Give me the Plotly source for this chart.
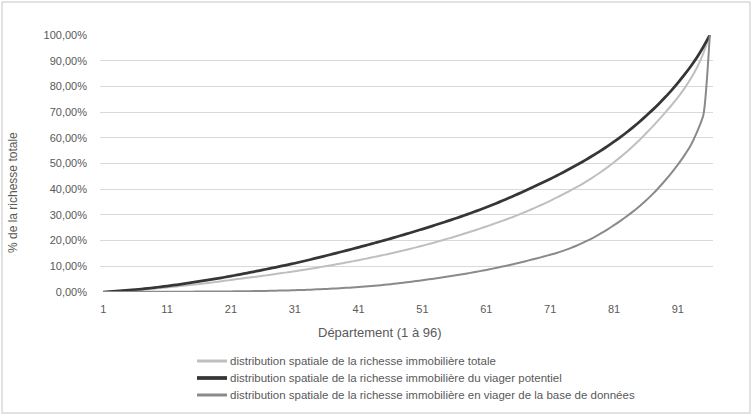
import numpy as np
import plotly.graph_objects as go

# Départements 1 à 96 (classés)
departements = list(range(1, 97))
x_ticks = [1, 11, 21, 31, 41, 51, 61, 71, 81, 91]

# % cumulé de la richesse
richesse_totale = [
    0, 0.1, 0.2, 0.32, 0.46, 0.6,
    0.82, 1.06, 1.3, 1.55, 1.8,
    2.05, 2.3, 2.56, 2.83, 3.1,
    3.4, 3.7, 4.0, 4.35, 4.7,
    5.02, 5.34, 5.66, 5.98, 6.3,
    6.65, 7.0, 7.36, 7.73, 8.1,
    8.48, 8.87, 9.27, 9.68, 10.1,
    10.55, 11.0, 11.46, 11.93, 12.4,
    12.9, 13.41, 13.93, 14.46, 15.0,
    15.58, 16.17, 16.77, 17.38, 18.0,
    18.67, 19.35, 20.05, 20.77, 21.5,
    22.27, 23.05, 23.85, 24.67, 25.5,
    26.36, 27.24, 28.14, 29.06, 30.0,
    31.05, 32.12, 33.21, 34.34, 35.5,
    36.74, 38.0, 39.28, 40.62, 42.0,
    43.55, 45.15, 46.82, 48.6, 50.5,
    52.5, 54.6, 56.85, 59.2, 61.7,
    64.3, 67.0, 69.8, 72.7, 75.8,
    79.2, 83.0, 87.4, 93.0, 100.0,
]

viager_potentiel = [
    0, 0.15, 0.32, 0.5, 0.7, 0.9,
    1.15, 1.42, 1.70, 2.0, 2.3,
    2.64, 2.99, 3.34, 3.71, 4.1,
    4.5, 4.9, 5.32, 5.75, 6.2,
    6.66, 7.13, 7.61, 8.1, 8.6,
    9.11, 9.62, 10.14, 10.66, 11.2,
    11.77, 12.36, 12.96, 13.57, 14.2,
    14.83, 15.46, 16.1, 16.75, 17.4,
    18.07, 18.74, 19.42, 20.1, 20.8,
    21.52, 22.25, 22.99, 23.74, 24.5,
    25.27, 26.06, 26.86, 27.67, 28.5,
    29.36, 30.23, 31.12, 32.05, 33.0,
    33.98, 34.99, 36.03, 37.1, 38.2,
    39.32, 40.46, 41.62, 42.8, 44.0,
    45.25, 46.55, 47.88, 49.23, 50.6,
    52.08, 53.6, 55.15, 56.8, 58.5,
    60.3, 62.2, 64.2, 66.3, 68.5,
    70.8, 73.2, 75.8, 78.5, 81.4,
    84.5, 87.8, 91.4, 95.5, 100.0,
]

viager_base = [
    0, 0.01, 0.02, 0.03, 0.04, 0.05, 0.06, 0.07, 0.08, 0.09,
    0.1, 0.11, 0.12, 0.13, 0.14, 0.15, 0.16, 0.18, 0.2, 0.22,
    0.24, 0.27, 0.3, 0.33, 0.37, 0.41, 0.46, 0.51, 0.57, 0.63,
    0.7, 0.78, 0.87, 0.97, 1.08, 1.2, 1.33, 1.47, 1.62, 1.78,
    1.95, 2.13, 2.33, 2.55, 2.79, 3.05, 3.33, 3.62, 3.93, 4.25,
    4.58, 4.92, 5.27, 5.63, 6.0, 6.4, 6.81, 7.23, 7.66, 8.12,
    8.6, 9.1, 9.62, 10.16, 10.72, 11.3, 11.9, 12.52, 13.16, 13.82,
    14.5, 15.2, 16.0, 16.9, 17.9, 19.0, 20.2, 21.5, 22.9, 24.4,
    26.0, 27.7, 29.5, 31.4, 33.4, 35.6, 38.0, 40.6, 43.4, 46.4,
    49.6, 53.1, 57.0, 62.3, 69.0, 100.0,
]

noms = [
    "distribution spatiale de la richesse immobilière totale",
    "distribution spatiale de la richesse immobilière du viager potentiel",
    "distribution spatiale de la richesse immobilière en viager de la base de données",
]
couleurs = ["#bfbfbf", "#363636", "#8a8a8a"]
epaisseurs = [2, 2.75, 2]
series = [richesse_totale, viager_potentiel, viager_base]

# Géométrie en pixels (zone de tracé)
W, H = 754, 418
L, R, T, B = 100, 41, 35, 126
pw, ph = W - L - R, H - T - B


def px(x):
    return (x - L) / pw


def py(y):
    return (H - B - y) / ph


texte = "#595959"
fig = go.Figure()

for vals, nom, c, w in zip(series, noms, couleurs, epaisseurs):
    fig.add_trace(go.Scatter(x=departements, y=np.array(vals) / 100, mode="lines",
                             name=nom, line=dict(color=c, width=w, shape="spline", smoothing=0.6)))

fig.update_layout(
    width=W, height=H,
    margin=dict(l=L, r=R, t=T, b=B),
    paper_bgcolor="white", plot_bgcolor="white",
    showlegend=False,
    separators=", ",
    font=dict(family="Liberation Sans", color=texte, size=11),
)
fig.update_xaxes(range=[0.5, 96.5], tickvals=x_ticks, showgrid=False, zeroline=False,
                 showline=False, ticks="", ticklabelstandoff=9, automargin=False,
                 tickfont=dict(size=11, color=texte))
fig.update_yaxes(range=[0, 1.0005], dtick=0.1, tickformat=".2%", showgrid=True,
                 gridcolor="#d9d9d9", gridwidth=1, zeroline=False, showline=False,
                 ticks="", ticklabelstandoff=12, automargin=False,
                 tickfont=dict(size=11, color=texte))

# Titres des axes
fig.add_annotation(text="Département (1 à 96)", x=px(380), y=py(333), xref="paper", yref="paper",
                   xanchor="center", yanchor="middle", showarrow=False,
                   font=dict(size=13, color=texte))
fig.add_annotation(text="% de la richesse totale", x=px(13), y=py(193), xref="paper", yref="paper",
                   xanchor="center", yanchor="middle", showarrow=False, textangle=-90,
                   font=dict(size=12, color=texte))

# Légende
for i, (nom, c, w) in enumerate(zip(noms, couleurs, epaisseurs)):
    yy = 361 + i * 17
    fig.add_shape(type="line", xref="paper", yref="paper", x0=px(197), x1=px(227),
                  y0=py(yy), y1=py(yy), line=dict(color=c, width=w + 1))
    fig.add_annotation(text=nom, x=px(228), y=py(yy), xref="paper", yref="paper",
                       xanchor="left", yanchor="middle", showarrow=False,
                       font=dict(size=11.5, color=texte))

# Cadre du graphique
fig.add_shape(type="rect", xref="paper", yref="paper", x0=px(2), x1=px(750),
              y0=py(413), y1=py(2), line=dict(color="#d9d9d9", width=1.5), layer="below")

fig.write_html("out.html", config={"displayModeBar": False},
               post_script="document.body.style.margin = '0';")
